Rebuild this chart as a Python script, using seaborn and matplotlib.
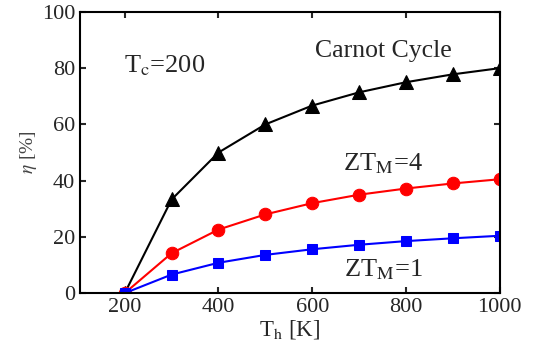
import numpy as np
import pandas as pd
import matplotlib
matplotlib.use('Agg')
import matplotlib.pyplot as plt
import seaborn as sns

sns.set_style('ticks')
plt.rcParams['font.family'] = ['Liberation Serif', 'DejaVu Serif']
plt.rcParams['mathtext.fontset'] = 'stix'

# data
th = [200, 300, 400, 500, 600, 700, 800, 900, 1000]
carnot = [0, 33.3, 50, 60, 66.7, 71.4, 75, 77.8, 80]
zt4 = [0, 14.2, 22.6, 28.0, 32.0, 35.0, 37.2, 39.0, 40.5]
zt1 = [0, 6.6, 10.8, 13.6, 15.6, 17.2, 18.5, 19.5, 20.4]

fig = plt.figure(figsize=(5.42, 3.61), dpi=100)
ax = fig.add_axes([0.148, 0.188, 0.774, 0.779])

sns.lineplot(x=th, y=carnot, ax=ax, color='black', marker='^', markersize=10,
             markeredgecolor='black', linewidth=1.5)
sns.lineplot(x=th, y=zt4, ax=ax, color='red', marker='o', markersize=9,
             markeredgecolor='red', linewidth=1.5)
sns.lineplot(x=th, y=zt1, ax=ax, color='blue', marker='s', markersize=6.5,
             markeredgecolor='blue', linewidth=1.5)

ax.set_xlim(105, 1000)
ax.set_ylim(0, 100)
ax.set_xticks([200, 400, 600, 800, 1000])
ax.set_yticks([0, 20, 40, 60, 80, 100])
ax.tick_params(direction='in', top=True, right=True, labelsize=16, length=4, width=1.5)
for s in ax.spines.values():
    s.set_linewidth(1.5)
    s.set_color('black')

ax.set_xlabel('T$_\\mathrm{h}$ [K]', fontsize=16.5, labelpad=1)
ax.set_ylabel('$\\eta$ [%]', fontsize=14, labelpad=2, color='#444444')

ax.text(751, 86, 'Carnot Cycle', fontsize=18.5, ha='center', va='center')
ax.text(285, 81, 'T$_\\mathrm{c}$=200', fontsize=19, ha='center', va='center')
ax.text(751, 46, 'ZT$_\\mathrm{M}$=4', fontsize=19, ha='center', va='center')
ax.text(751, 8.5, 'ZT$_\\mathrm{M}$=1', fontsize=19, ha='center', va='center')

fig.savefig('out.png', dpi=100)
